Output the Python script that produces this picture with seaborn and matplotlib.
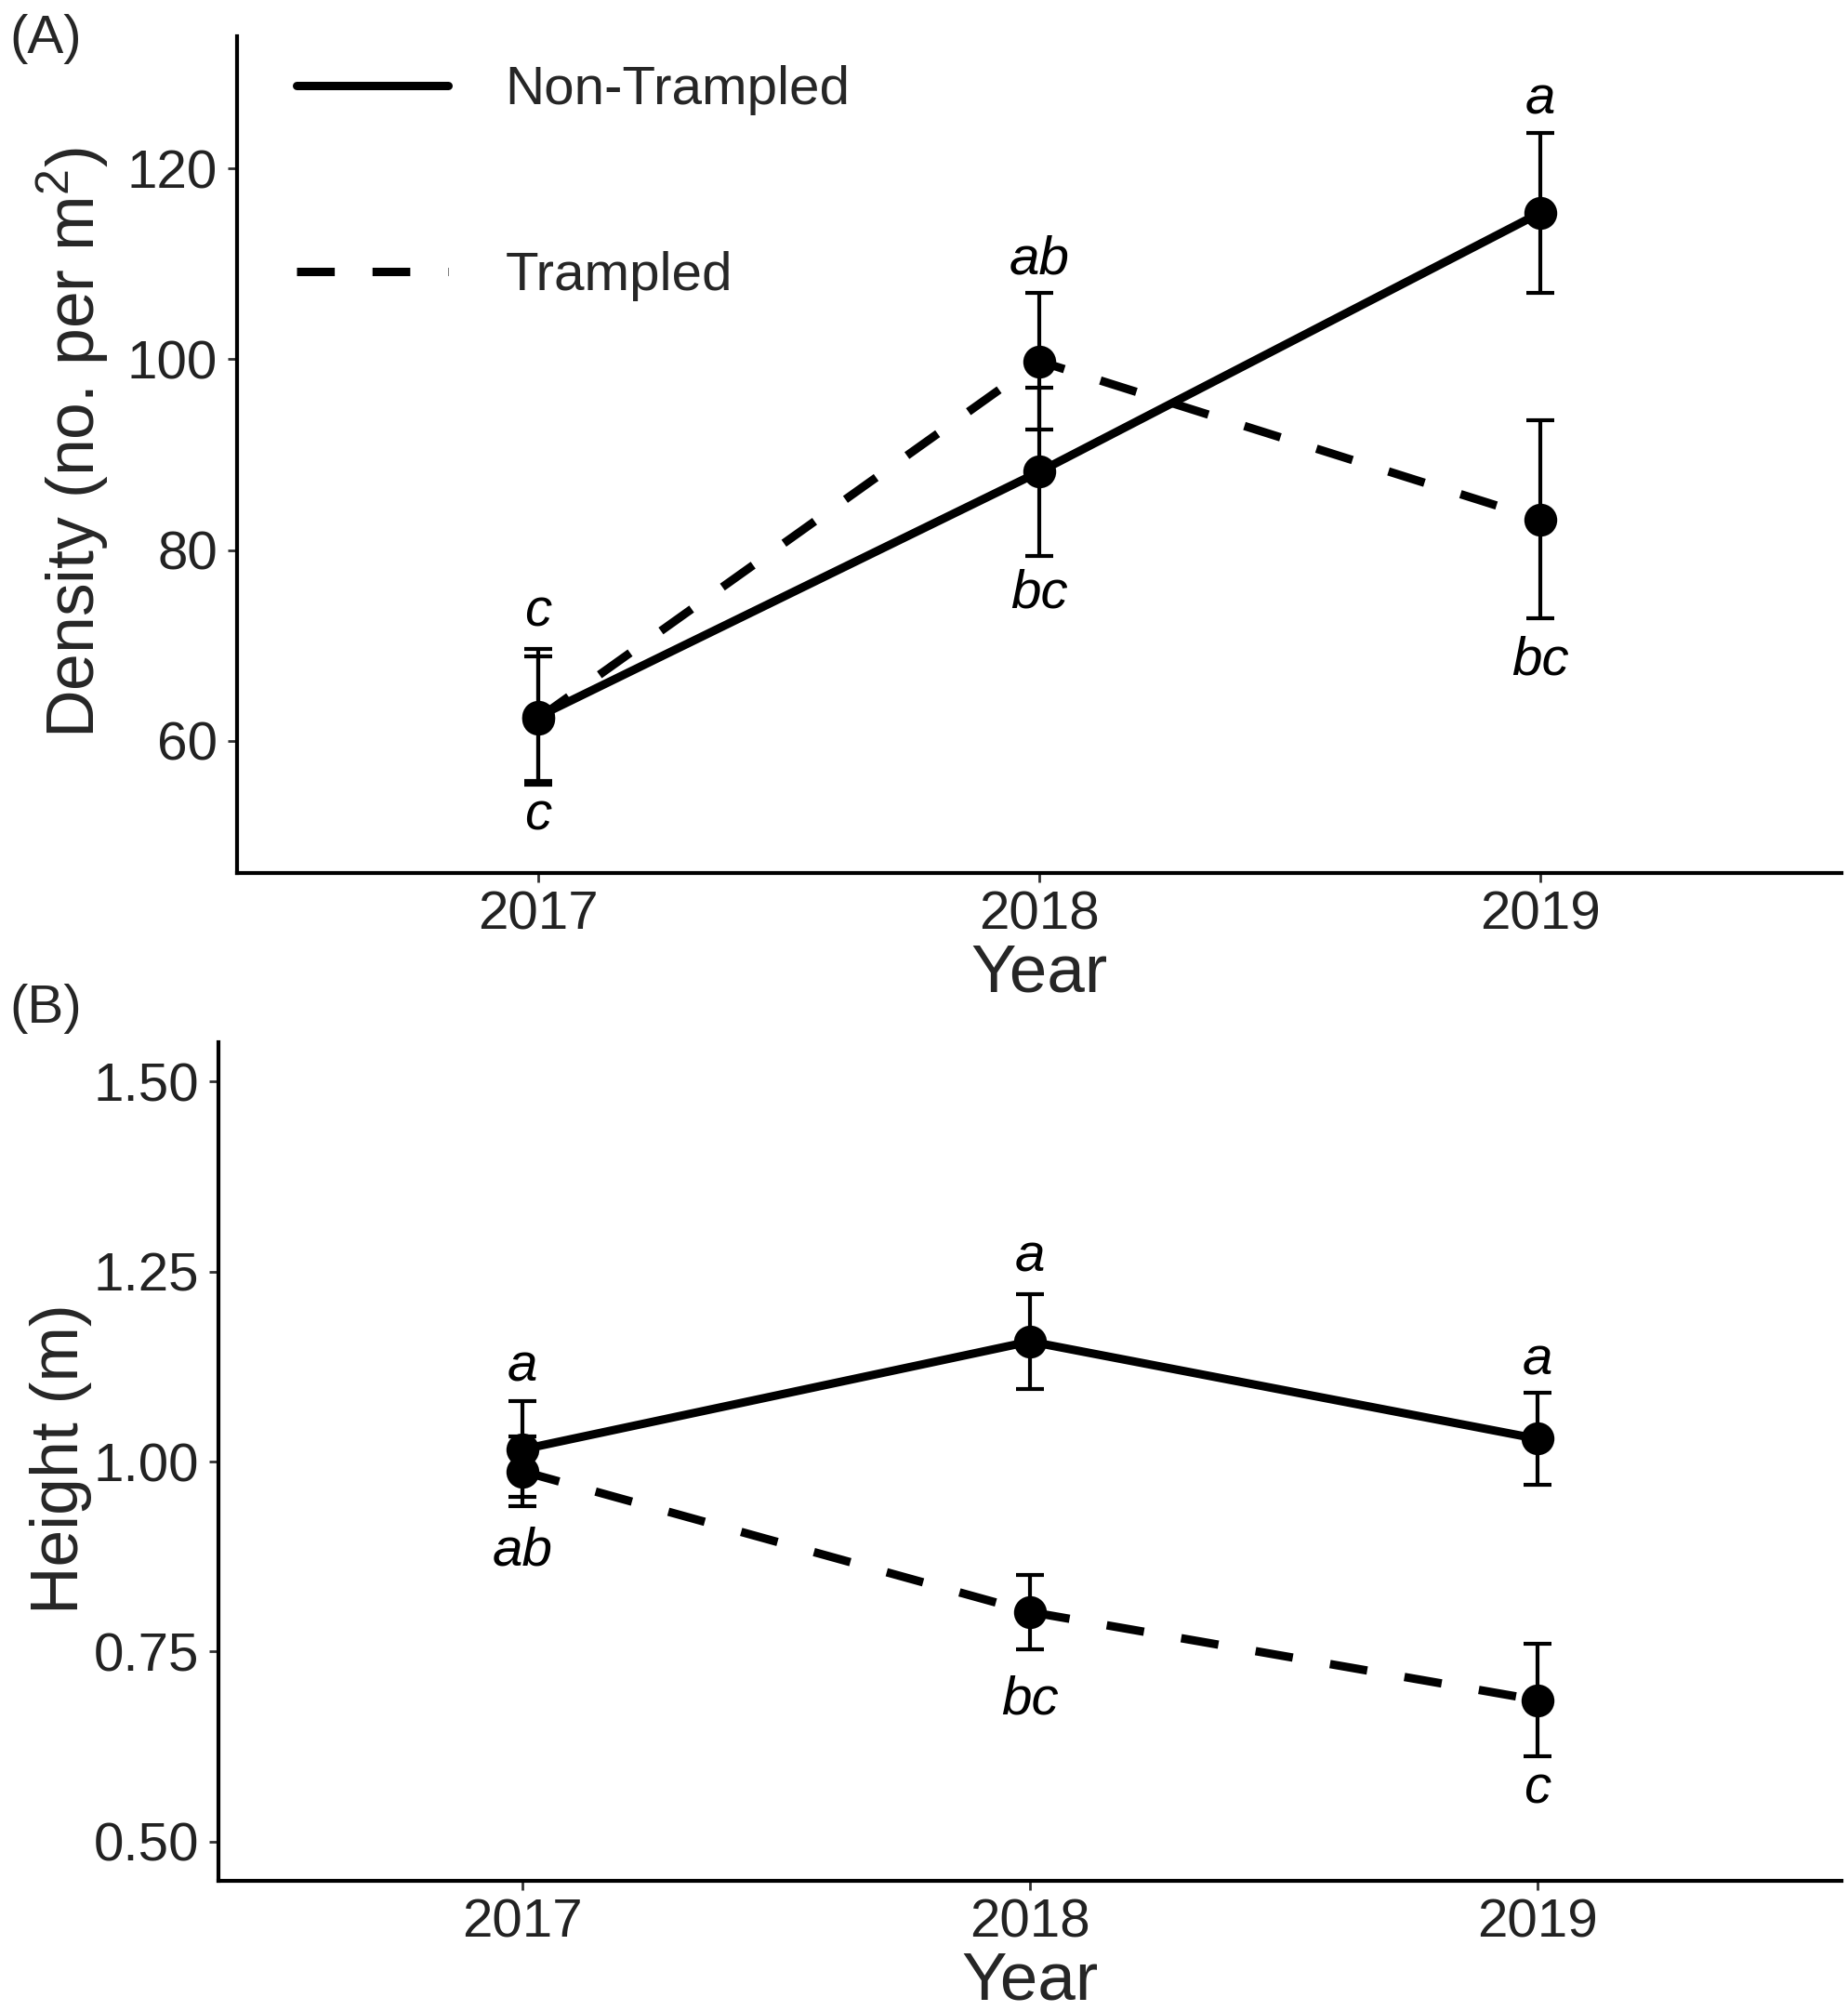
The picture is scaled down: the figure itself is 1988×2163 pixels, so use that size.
import matplotlib
matplotlib.use("Agg")
import matplotlib.pyplot as plt
import seaborn as sns
import pandas as pd
from matplotlib.ticker import FixedLocator, FormatStrFormatter

# ---------------- data ----------------
years = [2017, 2018, 2019]
treatments = ["Non-Trampled", "Trampled"]

density_nontrampled = [62.5, 88.2, 115.4]
density_nontrampled_se = [7.1, 8.8, 8.4]
density_trampled = [62.3, 99.8, 83.2]
density_trampled_se = [6.5, 7.2, 10.4]

height_nontrampled = [1.016, 1.158, 1.030]
height_nontrampled_se = [0.063, 0.062, 0.060]
height_trampled = [0.987, 0.802, 0.686]
height_trampled_se = [0.046, 0.049, 0.074]

# significance letters (text, year, y in data units of the letter baseline)
density_letters = ["c", "c", "ab", "bc", "a", "bc"]
density_letter_years = [2017, 2017, 2018, 2018, 2019, 2019]
density_letter_y = [72.0, 50.6, 109.0, 74.0, 125.8, 66.9]

height_letters = ["a", "ab", "a", "bc", "a", "c"]
height_letter_years = [2017, 2017, 2018, 2018, 2019, 2019]
height_letter_y = [1.106, 0.863, 1.250, 0.668, 1.115, 0.550]

density_ticks = [60, 80, 100, 120]
height_ticks = [0.50, 0.75, 1.00, 1.25, 1.50]

# ---------------- style ----------------
sns.set_theme(style="white")
plt.rcParams["font.family"] = ["Liberation Sans", "DejaVu Sans"]
plt.rcParams["mathtext.fontset"] = "custom"
plt.rcParams["mathtext.rm"] = "Liberation Sans"
plt.rcParams["mathtext.it"] = "Liberation Sans:italic"
plt.rcParams["mathtext.bf"] = "Liberation Sans:bold"

W, H = 1988, 2163
fig = plt.figure(figsize=(W / 100, H / 100), dpi=100)

def px_axes(left, top, right, bottom):
    return fig.add_axes([left / W, 1 - bottom / H, (right - left) / W, (bottom - top) / H])

axA = px_axes(255, 39, 1981, 939)
axB = px_axes(235, 1121, 1981, 2023)

LW = 6.5
dash_map = {"Non-Trampled": "", "Trampled": (4.5, 4.5)}


def make_df(v_nt, se_nt, v_t, se_t, name):
    return pd.DataFrame({
        "Year": years * 2,
        "Treatment": [treatments[0]] * 3 + [treatments[1]] * 3,
        name: v_nt + v_t,
        "se": se_nt + se_t,
    })


dfA = make_df(density_nontrampled, density_nontrampled_se,
              density_trampled, density_trampled_se, "Density")
dfB = make_df(height_nontrampled, height_nontrampled_se,
              height_trampled, height_trampled_se, "Height")


def draw(ax, df, col, legend):
    sns.lineplot(data=df, x="Year", y=col, style="Treatment",
                 style_order=treatments, dashes=dash_map, color="black",
                 linewidth=LW, errorbar=None, ax=ax, legend=legend, zorder=2)
    ax.errorbar(df["Year"], df[col], yerr=df["se"], fmt="none",
                ecolor="black", elinewidth=3, capsize=11, capthick=3, zorder=3)
    sns.scatterplot(data=df, x="Year", y=col, color="black", s=650,
                    linewidth=0, ax=ax, legend=False, zorder=4)


draw(axA, dfA, "Density", True)
draw(axB, dfB, "Height", False)

tick_color = "#222222"
for ax in (axA, axB):
    ax.set_xlim(2016.4, 2019.6)
    ax.xaxis.set_major_locator(FixedLocator(years))
    ax.xaxis.set_major_formatter(FormatStrFormatter("%d"))
    for s in ("top", "right"):
        ax.spines[s].set_visible(False)
    for s in ("left", "bottom"):
        ax.spines[s].set_color("black")
        ax.spines[s].set_linewidth(3)
    ax.tick_params(axis="both", which="major", length=7, width=2,
                   color="#333333", labelsize=42, labelcolor=tick_color,
                   left=True, bottom=True)
    ax.tick_params(axis="x", pad=6)
    ax.tick_params(axis="y", pad=8)
    ax.set_facecolor("white")
    ax.grid(False)

axA.set_ylim(46.1, 133.9)
axA.yaxis.set_major_locator(FixedLocator(density_ticks))
axA.yaxis.set_major_formatter(FormatStrFormatter("%d"))
axB.set_ylim(0.448, 1.552)
axB.yaxis.set_major_locator(FixedLocator(height_ticks))
axB.yaxis.set_major_formatter(FormatStrFormatter("%.2f"))

TITLE_FS = 51.5
axA.set_xlabel("Year", fontsize=TITLE_FS + 1)
axB.set_xlabel("Year", fontsize=TITLE_FS + 1)
axA.set_ylabel("Density (no. per m$^{2}$)", fontsize=TITLE_FS)
axB.set_ylabel("Height (m)", fontsize=TITLE_FS)
axA.xaxis.set_label_coords(0.5, -0.084)
axB.xaxis.set_label_coords(0.5, -0.084)
axA.yaxis.set_label_coords(-0.079, 0.514)
axB.yaxis.set_label_coords(-0.078, 0.503)

# significance letters
for ax, letters, lyears, ly in ((axA, density_letters, density_letter_years, density_letter_y),
                                (axB, height_letters, height_letter_years, height_letter_y)):
    for t, x, y in zip(letters, lyears, ly):
        ax.text(x, y, t, ha="center", va="baseline", fontsize=42,
                style="italic", color="black")

# legend
old = axA.get_legend()
handles = list(old.legend_handles)
labels = [t.get_text() for t in old.get_texts()]
old.remove()
leg = axA.legend(handles, labels, loc="upper left", bbox_to_anchor=(0.037, 0.965),
                 frameon=False, fontsize=42, handlelength=2.8, handletextpad=1.05,
                 labelspacing=2.5, borderpad=0, borderaxespad=0)
for h in leg.legend_handles:
    h.set_linewidth(LW)
    h.set_color("black")

fig.text(10 / W, 1 - 57 / H, "(A)", fontsize=42, ha="left", va="baseline")
fig.text(10 / W, 1 - 1100 / H, "(B)", fontsize=42, ha="left", va="baseline")

fig.savefig("out.png", dpi=100, facecolor="white")
